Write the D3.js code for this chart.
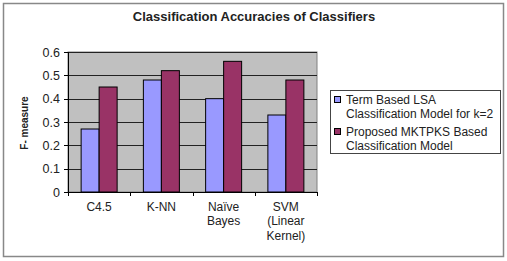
<!DOCTYPE html>
<meta charset="utf-8" />
<style>
  body { margin: 0; background: #fff; }
  svg text { font-family: "Liberation Sans", Arial, sans-serif; fill: #222; }
  .axis path, .axis line { stroke: #000; shape-rendering: crispEdges; }
</style>
<svg width="507" height="261"></svg>
<script src="https://cdn.jsdelivr.net/npm/d3@7"></script>
<script>
  var categories = [["C4.5"], ["K-NN"], ["Naïve", "Bayes"], ["SVM", "(Linear", "Kernel)"]];
  var seriesNames = ["Term Based LSA Classification Model for k=2", "Proposed MKTPKS Based Classification Model"];
  var lsaValues = [0.27, 0.48, 0.40, 0.33];
  var mktpksValues = [0.45, 0.52, 0.56, 0.48];
  var yTicks = [0, 0.1, 0.2, 0.3, 0.4, 0.5, 0.6];
  var legendLines = [["Term Based LSA", "Classification Model for k=2"], ["Proposed MKTPKS Based", "Classification Model"]];

  var colors = ["#9999ff", "#993366"];

  var svg = d3.select("svg");
  var plot = { left: 68, right: 317, top: 52, bottom: 192 };

  // outer frame
  svg.append("rect")
    .attr("x", 3.5).attr("y", 3.5).attr("width", 500).attr("height", 253)
    .attr("fill", "#fff").attr("stroke", "#888").attr("stroke-width", 1.5);

  svg.append("text")
    .attr("x", 254).attr("y", 21)
    .attr("text-anchor", "middle")
    .style("font-size", "13px").style("font-weight", "bold")
    .text("Classification Accuracies of Classifiers");

  var x = d3.scaleBand().domain(d3.range(categories.length)).range([plot.left, plot.right]).paddingInner(0).paddingOuter(0);
  var x1 = d3.scaleBand().domain([0, 1]).range([0, 36]);
  var y = d3.scaleLinear().domain([0, 0.6]).range([plot.bottom, plot.top]);

  svg.append("rect")
    .attr("x", plot.left).attr("y", plot.top)
    .attr("width", plot.right - plot.left).attr("height", plot.bottom - plot.top)
    .attr("fill", "#c0c0c0").attr("stroke", "#808080");

  svg.append("g").selectAll("line")
    .data(yTicks.slice(1))
    .enter().append("line")
    .attr("x1", plot.left).attr("x2", plot.right)
    .attr("y1", function(d) { return Math.round(y(d)) + 0.5; })
    .attr("y2", function(d) { return Math.round(y(d)) + 0.5; })
    .attr("stroke", "#222").attr("stroke-width", 1);

  var groups = svg.append("g").selectAll("g")
    .data(categories)
    .enter().append("g")
    .attr("transform", function(d, i) { return "translate(" + (x(i) + (x.bandwidth() - 36) / 2) + ",0)"; });

  groups.selectAll("rect")
    .data(function(d, i) { return [lsaValues[i], mktpksValues[i]]; })
    .enter().append("rect")
    .attr("x", function(d, j) { return x1(j); })
    .attr("y", function(d) { return y(d); })
    .attr("width", x1.bandwidth())
    .attr("height", function(d) { return y(0) - y(d); })
    .attr("fill", function(d, j) { return colors[j]; })
    .attr("stroke", "#000").attr("stroke-width", 1);

  var yAxis = d3.axisLeft(y).tickValues(yTicks).tickSize(4).tickPadding(4)
    .tickFormat(function(d) { return d === 0 ? "0" : d3.format(".1f")(d); });
  var gy = svg.append("g").attr("class", "axis")
    .attr("transform", "translate(" + plot.left + ",0)").call(yAxis);
  gy.selectAll("text").style("font-size", "12.5px").attr("fill", "#222");

  var xAxis = d3.axisBottom(x).tickSize(0).tickFormat("");
  var gx = svg.append("g").attr("class", "axis")
    .attr("transform", "translate(0," + plot.bottom + ")").call(xAxis);
  gx.select(".domain").remove();
  gx.append("line").attr("x1", plot.left - 4).attr("x2", plot.right).attr("stroke", "#000");
  gx.selectAll(".bnd").data(d3.range(categories.length + 1)).enter().append("line")
    .attr("class", "bnd")
    .attr("x1", function(i) { return Math.round(plot.left + i * x.bandwidth()) + 0.5; })
    .attr("x2", function(i) { return Math.round(plot.left + i * x.bandwidth()) + 0.5; })
    .attr("y1", 0).attr("y2", 4).attr("stroke", "#000");

  var labels = svg.append("g").selectAll("text")
    .data(categories)
    .enter().append("text")
    .attr("text-anchor", "middle")
    .attr("x", function(d, i) { return x(i) + x.bandwidth() / 2; })
    .attr("y", 211)
    .style("font-size", "12px");
  labels.selectAll("tspan")
    .data(function(d) { return d; })
    .enter().append("tspan")
    .attr("x", function() { return d3.select(this.parentNode).attr("x"); })
    .attr("dy", function(d, k) { return k === 0 ? 0 : 14.3; })
    .text(function(d) { return d; });

  svg.append("text")
    .attr("transform", "translate(28,123) rotate(-90)")
    .attr("text-anchor", "middle")
    .style("font-size", "10px").style("font-weight", "bold")
    .text("F- measure");

  // legend
  var legend = svg.append("g");
  legend.append("rect")
    .attr("x", 330.5).attr("y", 90.5).attr("width", 170).attr("height", 63)
    .attr("fill", "#fff").attr("stroke", "#444");
  var items = legend.selectAll(".item").data(seriesNames).enter().append("g")
    .attr("class", "item")
    .attr("transform", function(d, i) { return "translate(0," + (i * 32) + ")"; });
  items.append("rect")
    .attr("x", 334.5).attr("y", 96.5).attr("width", 6).attr("height", 6)
    .attr("fill", function(d, i) { return colors[i]; }).attr("stroke", "#000");
  items.append("text")
    .attr("x", 346).attr("y", 104)
    .style("font-size", "12px")
    .selectAll("tspan")
    .data(function(d, i) { return legendLines[i]; })
    .enter().append("tspan")
    .attr("x", 346)
    .attr("dy", function(d, k) { return k === 0 ? 0 : 14; })
    .text(function(d) { return d; });
</script>
